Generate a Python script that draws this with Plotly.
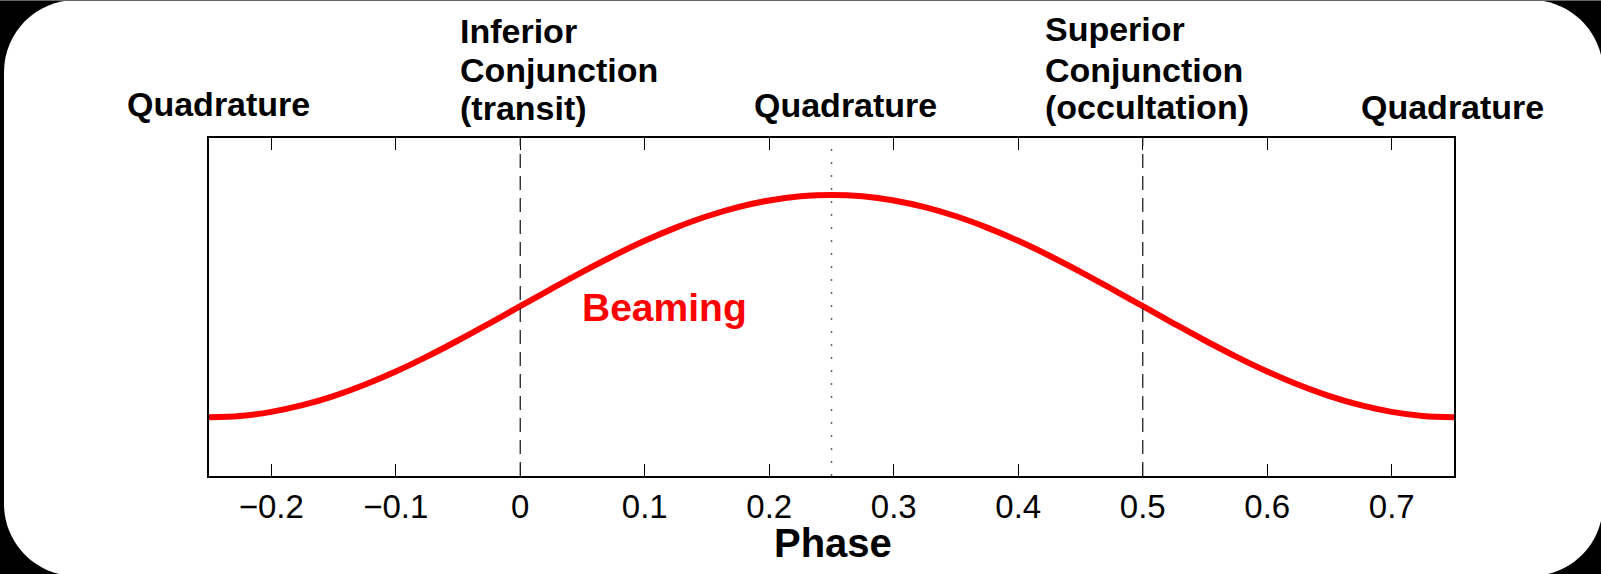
import plotly.graph_objects as go

# ---- data ----
phase = [-0.25, -0.225, -0.2, -0.175, -0.15, -0.125, -0.1, -0.075, -0.05, -0.025,
         0.0, 0.025, 0.05, 0.075, 0.1, 0.125, 0.15, 0.175, 0.2, 0.225,
         0.25, 0.275, 0.3, 0.325, 0.35, 0.375, 0.4, 0.425, 0.45, 0.475,
         0.5, 0.525, 0.55, 0.575, 0.6, 0.625, 0.65, 0.675, 0.7, 0.725, 0.75]
beaming = [-1.0, -0.988, -0.951, -0.891, -0.809, -0.707, -0.588, -0.454, -0.309, -0.156,
           0.0, 0.156, 0.309, 0.454, 0.588, 0.707, 0.809, 0.891, 0.951, 0.988,
           1.0, 0.988, 0.951, 0.891, 0.809, 0.707, 0.588, 0.454, 0.309, 0.156,
           0.0, -0.156, -0.309, -0.454, -0.588, -0.707, -0.809, -0.891, -0.951, -0.988, -1.0]
tick_vals = [-0.2, -0.1, 0, 0.1, 0.2, 0.3, 0.4, 0.5, 0.6, 0.7]
tick_text = ["\u22120.2", "\u22120.1", "0", "0.1", "0.2", "0.3", "0.4", "0.5", "0.6", "0.7"]
dashed_phases = [0.0, 0.5]
dotted_phase = 0.25

W, H = 1601, 574
L, R, T, B = 209, 1454, 138, 476
PW, PH = R - L, B - T
FONT = "Liberation Sans, Arial, Helvetica, sans-serif"


def px(xp):
    return (xp - L) / PW


def py(yp):
    return (B - yp) / PH


fig = go.Figure()

fig.add_trace(go.Scatter(x=phase, y=beaming, mode="lines", line=dict(color="#ff0000", width=6, shape="spline"),
                         showlegend=False, hoverinfo="skip"))

# rounded white card on black background
r = 72
k = 0.5523 * r
x0, x1, y0, y1 = 4, W + 2, 0, H + 2
pts = [
    ("M", [(x0 + r, y0)]),
    ("L", [(x1 - r, y0)]),
    ("C", [(x1 - r + k, y0), (x1, y0 + r - k), (x1, y0 + r)]),
    ("L", [(x1, y1 - r)]),
    ("C", [(x1, y1 - r + k), (x1 - r + k, y1), (x1 - r, y1)]),
    ("L", [(x0 + r, y1)]),
    ("C", [(x0 + r - k, y1), (x0, y1 - r + k), (x0, y1 - r)]),
    ("L", [(x0, y0 + r)]),
    ("C", [(x0, y0 + r - k), (x0 + r - k, y0), (x0 + r, y0)]),
]
path = ""
for cmd, ps in pts:
    path += cmd + " " + " ".join(f"{px(a):.5f},{py(b):.5f}" for a, b in ps) + " "
path += "Z"
fig.add_shape(type="path", path=path, xref="paper", yref="paper", fillcolor="white",
              line=dict(width=0), layer="below")
fig.add_shape(type="line", xref="paper", yref="paper", x0=px(0), x1=px(W), y0=py(0.5), y1=py(0.5),
              line=dict(color="#666666", width=1), layer="below")

for ph in dashed_phases:
    fig.add_shape(type="line", xref="x", yref="paper", x0=ph, x1=ph, y0=0, y1=1,
                  line=dict(color="#222222", width=1.3, dash="14px,8px"))
fig.add_shape(type="line", xref="x", yref="paper", x0=dotted_phase, x1=dotted_phase, y0=0, y1=1,
              line=dict(color="#666666", width=1.5, dash="2px,11px"))


def ann(text, xpix, ypix, size, anchor="center", color="black"):
    fig.add_annotation(text=text, xref="paper", yref="paper", x=px(xpix), y=py(ypix),
                       xanchor=anchor, yanchor="middle", showarrow=False,
                       font=dict(family=FONT, size=size, color=color, weight="bold"))


ann("Quadrature", 218, 104, 34)
ann("Quadrature", 845, 105, 34)
ann("Quadrature", 1452, 107, 34)
for txt, yy in [("Inferior", 31.5), ("Conjunction", 70.5), ("(transit)", 108)]:
    ann(txt, 458, yy, 34, anchor="left")
for txt, yy in [("Superior", 29), ("Conjunction", 69.5), ("(occultation)", 107)]:
    ann(txt, 1043, yy, 34, anchor="left")
ann("Beaming", 580, 307, 39, anchor="left", color="#ff0000")
ann("Phase", 832.5, 542.5, 40)

fig.update_layout(
    width=W, height=H,
    margin=dict(l=L, r=W - R, t=T, b=H - B, pad=0),
    paper_bgcolor="black", plot_bgcolor="white",
    font=dict(family=FONT, color="black"),
    xaxis=dict(range=[-0.25, 0.75], tickvals=tick_vals, ticktext=tick_text, ticks="inside", ticklen=12,
               tickwidth=1.3, tickcolor="black", showline=True, linecolor="black", linewidth=2,
               mirror="ticks", showgrid=False, zeroline=False, tickfont=dict(size=33, family=FONT),
               fixedrange=True),
    yaxis=dict(range=[-1.528, 1.513], showticklabels=False, ticks="", showline=True, linecolor="black",
               linewidth=2, mirror=True, showgrid=False, zeroline=False, fixedrange=True),
)

fig.write_html("out.html")
